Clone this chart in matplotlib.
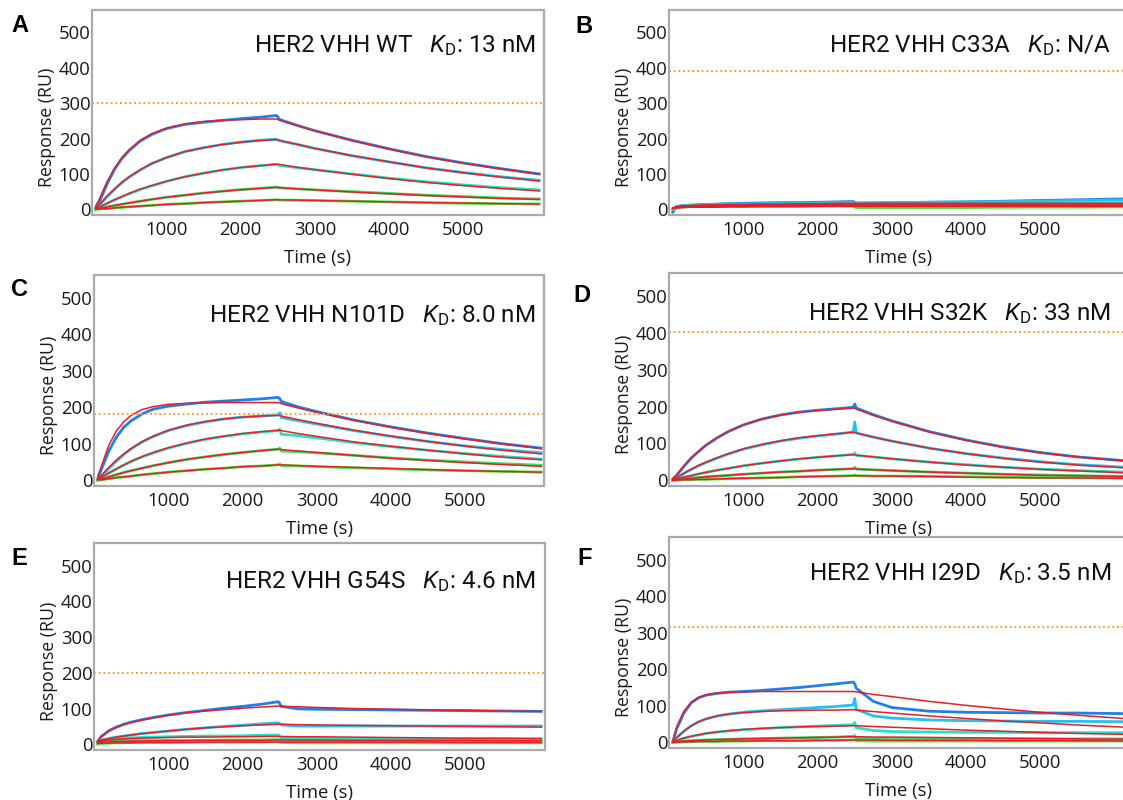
import matplotlib
matplotlib.use("Agg")
import matplotlib.pyplot as plt

# time grid (s) of the sampled points; right column panels run past the crop
T_LEFT  = [50, 100, 200, 300, 400, 500, 650, 800, 1000, 1250, 1500, 1750, 2000, 2250,
           2480, 2500, 2520, 2750, 3000, 3500, 4000, 4500, 5000, 5500, 6020]
T_RIGHT = [50, 100, 200, 300, 400, 500, 650, 800, 1000, 1250, 1500, 1750, 2000, 2250,
           2480, 2500, 2520, 2750, 3000, 3500, 4000, 4500, 5000, 5500, 6250]

LETTERS  = ["A", "B", "C", "D", "E", "F"]
VARIANTS = ["WT", "C33A", "N101D", "S32K", "G54S", "I29D"]
KD_TEXT  = ["13 nM", "N/A", "8.0 nM", "33 nM", "4.6 nM", "3.5 nM"]
RMAX     = [300, 390, 181, 402, 200, 315]

# observed responses (RU), highest to lowest concentration
A_OBS = [
    [3, 22, 70, 112, 143, 166, 193, 211, 228, 240, 246, 251, 256, 260, 265, 262, 254, 238, 222, 195, 171, 149, 131, 115, 100],
    [2, 12, 35, 56, 75, 91, 111, 129, 146, 163, 174, 183, 190, 195, 198, 196, 194, 184, 172, 151, 134, 117, 104, 92, 82],
    [1, 5, 16, 26, 35, 44, 56, 66, 79, 92, 102, 111, 118, 123, 127, 126, 124, 118, 112, 100, 88, 78, 69, 61, 55],
    [0, 2, 6, 10, 14, 18, 23, 28, 34, 40, 46, 51, 56, 59, 63, 62, 61, 58, 55, 50, 45, 40, 36, 32, 29],
    [0, 1, 2, 4, 5, 7, 9, 11, 14, 16, 19, 21, 23, 25, 27, 27, 26, 26, 25, 23, 21, 19, 17, 16, 15],
]
A_FIT = [
    [10, 29, 77, 115, 145, 168, 195, 213, 229, 241, 248, 252, 253, 255, 255, 254, 252, 237, 222, 194, 170, 148, 130, 114, 99],
    [4, 13, 37, 57, 76, 92, 112, 129, 146, 163, 174, 183, 189, 194, 197, 196, 195, 184, 172, 152, 134, 117, 103, 91, 80],
    [3, 6, 17, 27, 36, 45, 57, 67, 79, 92, 102, 111, 118, 123, 128, 127, 127, 119, 112, 99, 87, 76, 67, 59, 52],
    [2, 2, 7, 11, 15, 18, 23, 28, 34, 40, 46, 51, 55, 59, 62, 62, 61, 58, 55, 49, 44, 39, 35, 31, 28],
    [1, 1, 2, 4, 6, 7, 9, 11, 14, 16, 19, 21, 23, 25, 27, 27, 27, 26, 25, 23, 21, 19, 18, 16, 15],
]

B_OBS = [
    [-8, 8, 11, 12, 13, 14, 15, 16, 17, 18, 19, 19, 20, 21, 22, 20, 18, 18, 19, 20, 21, 23, 25, 27, 30],
    [0, 7, 10, 11, 12, 13, 14, 15, 15, 16, 17, 17, 18, 19, 19, 18, 17, 18, 19, 20, 21, 22, 23, 25, 27],
    [0, 6, 9, 10, 10, 11, 12, 12, 13, 13, 14, 14, 15, 15, 16, 14, 13, 14, 14, 15, 15, 16, 17, 18, 19],
    [0, 5, 8, 9, 9, 10, 10, 11, 11, 12, 12, 12, 13, 13, 13, 8, 6, 6, 6, 6, 7, 7, 8, 8, 9],
    [0, 4, 7, 8, 8, 8, 9, 9, 9, 10, 10, 10, 10, 11, 11, 6, 5, 5, 5, 5, 5, 6, 6, 6, 7],
]
B_FIT = [
    [4, 8, 10, 11, 12, 12, 13, 14, 14, 15, 15, 16, 16, 17, 17, 17, 17, 17, 17, 17, 17, 17, 17, 17, 17],
    [3, 7, 9, 10, 10, 11, 11, 12, 12, 13, 13, 14, 14, 14, 15, 15, 15, 15, 15, 15, 15, 15, 15, 15, 15],
    [3, 6, 8, 8, 9, 9, 10, 10, 10, 11, 11, 11, 12, 12, 12, 12, 12, 12, 12, 12, 12, 12, 12, 12, 12],
    [2, 5, 6, 7, 7, 7, 8, 8, 8, 9, 9, 9, 9, 10, 10, 10, 10, 10, 10, 10, 10, 10, 10, 10, 10],
    [2, 4, 5, 6, 6, 6, 6, 7, 7, 7, 7, 7, 8, 8, 8, 8, 8, 8, 8, 8, 8, 8, 8, 8, 8],
]

C_OBS = [
    [3, 30, 80, 118, 145, 163, 182, 195, 203, 209, 214, 217, 220, 223, 227, 224, 216, 201, 188, 165, 146, 129, 114, 100, 88],
    [2, 11, 32, 52, 70, 86, 105, 120, 136, 150, 160, 168, 173, 176, 179, 185, 172, 163, 154, 136, 120, 106, 94, 84, 75],
    [1, 6, 19, 30, 41, 51, 64, 75, 88, 101, 112, 120, 127, 132, 136, 140, 126, 122, 116, 103, 92, 82, 73, 65, 58],
    [0, 3, 9, 15, 21, 26, 33, 40, 48, 57, 64, 70, 76, 81, 85, 88, 80, 78, 75, 68, 61, 55, 50, 45, 41],
    [0, 1, 4, 7, 9, 11, 15, 18, 22, 26, 30, 33, 37, 39, 42, 44, 40, 39, 37, 34, 31, 28, 26, 24, 22],
]
C_FIT = [
    [10, 39, 96, 135, 160, 178, 194, 202, 208, 211, 212, 213, 213, 213, 213, 212, 210, 198, 186, 164, 145, 128, 113, 99, 87],
    [5, 13, 35, 55, 72, 87, 106, 121, 137, 151, 161, 168, 173, 176, 178, 177, 176, 166, 156, 137, 121, 106, 93, 82, 72],
    [3, 7, 20, 31, 42, 52, 65, 76, 89, 102, 113, 121, 128, 133, 137, 137, 136, 128, 120, 105, 93, 82, 72, 63, 56],
    [2, 3, 9, 15, 21, 26, 33, 40, 48, 57, 64, 71, 76, 81, 85, 85, 84, 80, 76, 68, 60, 54, 48, 43, 38],
    [1, 1, 4, 7, 9, 11, 15, 18, 22, 26, 30, 33, 37, 39, 42, 42, 42, 40, 38, 35, 32, 29, 26, 24, 22],
]

D_OBS = [
    [2, 12, 37, 60, 78, 95, 115, 132, 150, 166, 177, 185, 190, 194, 198, 207, 196, 178, 161, 132, 109, 90, 75, 63, 51],
    [1, 5, 18, 29, 39, 48, 60, 71, 84, 96, 106, 114, 120, 125, 131, 158, 128, 117, 106, 87, 72, 60, 50, 42, 34],
    [0, 3, 8, 12, 17, 21, 27, 32, 39, 46, 52, 57, 62, 66, 70, 74, 67, 63, 58, 49, 42, 35, 30, 26, 21],
    [0, 1, 3, 5, 7, 9, 11, 13, 16, 19, 22, 24, 27, 29, 31, 35, 30, 28, 26, 22, 19, 16, 14, 12, 10],
    [0, 0, 1, 1, 2, 2, 3, 4, 5, 6, 7, 9, 10, 11, 12, 14, 12, 11, 11, 10, 9, 8, 7, 6, 5],
]
D_FIT = [
    [5, 14, 39, 61, 79, 96, 116, 133, 150, 166, 177, 184, 189, 193, 196, 195, 193, 176, 160, 131, 108, 89, 74, 63, 50],
    [3, 6, 19, 30, 40, 49, 61, 72, 85, 97, 107, 115, 121, 126, 130, 129, 128, 117, 106, 87, 72, 59, 49, 41, 32],
    [1, 3, 8, 12, 17, 21, 27, 32, 39, 46, 52, 58, 62, 66, 69, 69, 68, 63, 58, 49, 41, 35, 29, 25, 19],
    [0, 1, 3, 5, 7, 9, 11, 13, 16, 19, 22, 24, 27, 29, 31, 31, 30, 28, 26, 22, 19, 16, 13, 12, 9],
    [0, 0, 1, 1, 2, 2, 3, 4, 5, 6, 7, 9, 10, 11, 12, 12, 12, 11, 11, 10, 8, 7, 6, 6, 5],
]

E_OBS = [
    [8, 22, 38, 48, 56, 62, 69, 75, 82, 89, 95, 101, 106, 112, 119, 114, 106, 99, 98, 97, 96, 95, 94, 93, 92],
    [5, 11, 16, 20, 23, 26, 30, 33, 37, 42, 46, 50, 53, 57, 60, 58, 54, 51, 51, 51, 51, 51, 51, 51, 51],
    [3, 10, 14, 16, 17, 18, 19, 20, 21, 22, 23, 23, 24, 25, 26, 22, 18, 16, 16, 16, 15, 15, 15, 15, 15],
    [2, 6, 8, 9, 9, 10, 10, 10, 11, 11, 11, 12, 12, 12, 13, 11, 10, 9, 9, 9, 9, 9, 9, 9, 9],
    [0, 2, 3, 4, 4, 5, 5, 5, 5, 6, 6, 6, 6, 6, 7, 6, 5, 4, 4, 4, 4, 4, 4, 4, 4],
]
E_FIT = [
    [10, 22, 37, 47, 55, 61, 68, 74, 81, 88, 93, 97, 101, 104, 107, 107, 106, 105, 103, 100, 98, 96, 95, 93, 92],
    [8, 12, 16, 20, 23, 26, 30, 33, 37, 42, 46, 49, 52, 54, 56, 56, 56, 55, 54, 53, 52, 51, 50, 49, 48],
    [5, 9, 12, 14, 15, 16, 17, 18, 19, 20, 20, 21, 21, 22, 22, 22, 22, 21, 21, 20, 19, 18, 17, 17, 16],
    [4, 6, 7, 8, 8, 9, 9, 10, 10, 10, 11, 11, 11, 11, 12, 12, 12, 12, 12, 11, 11, 11, 11, 10, 10],
    [2, 3, 3, 4, 4, 4, 5, 5, 5, 5, 6, 6, 6, 6, 6, 6, 6, 6, 6, 6, 6, 6, 5, 5, 5],
]

F_OBS = [
    [0, 35, 80, 108, 122, 129, 134, 137, 139, 142, 146, 150, 155, 160, 165, 160, 148, 112, 95, 85, 82, 81, 80, 80, 78],
    [0, 12, 30, 45, 56, 64, 72, 77, 82, 86, 89, 92, 95, 98, 102, 120, 90, 72, 66, 61, 59, 58, 57, 57, 56],
    [0, 4, 11, 16, 20, 24, 28, 31, 34, 37, 40, 42, 44, 46, 48, 54, 40, 32, 29, 28, 27, 27, 26, 26, 26],
    [0, 1, 3, 4, 5, 6, 7, 8, 9, 10, 11, 12, 13, 14, 16, 18, 12, 10, 10, 9, 9, 9, 9, 9, 9],
    [0, 0, 1, 1, 2, 2, 2, 3, 3, 4, 4, 4, 5, 5, 6, 7, 4, 3, 3, 3, 3, 3, 3, 3, 3],
]
F_FIT = [
    [0, 40, 85, 110, 123, 130, 135, 137, 138, 139, 139, 139, 139, 139, 139, 139, 138, 131, 125, 112, 101, 91, 82, 74, 63],
    [0, 12, 30, 45, 56, 64, 72, 77, 81, 84, 86, 87, 88, 88, 89, 89, 88, 84, 80, 72, 65, 58, 53, 47, 40],
    [0, 4, 11, 16, 20, 24, 28, 31, 35, 38, 40, 42, 43, 44, 45, 45, 45, 43, 41, 37, 33, 30, 27, 24, 21],
    [0, 1, 3, 4, 5, 6, 7, 8, 9, 10, 11, 12, 13, 14, 15, 15, 15, 14, 14, 13, 12, 11, 10, 9, 8],
    [0, 0, 1, 1, 2, 2, 2, 3, 3, 4, 4, 4, 5, 5, 6, 6, 6, 6, 5, 5, 5, 4, 4, 4, 3],
]

OBS = [A_OBS, B_OBS, C_OBS, D_OBS, E_OBS, F_OBS]
FIT = [A_FIT, B_FIT, C_FIT, D_FIT, E_FIT, F_FIT]

# ---------------------------------------------------------------------
# layout (pixels, top-left origin) and styling
# ---------------------------------------------------------------------
W, H = 1123, 800
BOXES = [(92, 10, 452, 205), (669, 10, 460, 205),
         (94, 275, 450, 211), (669, 273, 460, 213),
         (94, 543, 451, 207), (669, 537, 460, 211)]
TITLE_BASE = [52, 52, 322, 320, 588, 580]
LETTER_POS = [(11, 32), (575, 33), (11, 296), (573, 302), (11, 565), (577, 565)]
PX_PER_S = 74.3 / 1000

TRACE_COLORS = ["#1f80e8", "#22c2f0", "#22e4c4", "#3cdc66", "#48e848"]
FIT_COLOR = "#e61e28"
FRAME = "#ababab"
INK = "#1a1a1a"

plt.rcParams["font.family"] = ["Open Sans", "DejaVu Sans"]
plt.rcParams["mathtext.fontset"] = "custom"
plt.rcParams["mathtext.it"] = "Roboto:italic"
plt.rcParams["mathtext.rm"] = "Roboto"

fig = plt.figure(figsize=(W / 100, H / 100), dpi=100)

for i, (left, top, wd, ht) in enumerate(BOXES):
    ax = fig.add_axes([left / W, 1 - (top + ht) / H, wd / W, ht / H])
    t = T_LEFT if i % 2 == 0 else T_RIGHT

    for obs, col in zip(OBS[i], TRACE_COLORS):
        ax.plot(t, obs, color=col, lw=2.0, solid_joinstyle="round")
    for fit in FIT[i]:
        ax.plot(t, fit, color=FIT_COLOR, lw=1.1)
    ax.axhline(RMAX[i], color="#f5a33a", lw=1.4, ls=(0, (1, 1.4)))

    ax.set_xlim(0, wd / PX_PER_S)
    ax.set_ylim(-16, 563)
    ax.set_xticks([1000, 2000, 3000, 4000, 5000])
    ax.set_yticks([0, 100, 200, 300, 400, 500])
    ax.tick_params(length=0, labelsize=13.3, colors=INK)
    ax.tick_params(axis="y", pad=1.0)
    ax.tick_params(axis="x", pad=4.5)
    for sp in ax.spines.values():
        sp.set_color(FRAME)
        sp.set_linewidth(1.6)

    ax.set_ylabel("Response (RU)", fontsize=12.8, color=INK)
    ax.yaxis.set_label_coords(-36 / wd, 0.43)
    ax.set_xlabel("Time (s)", fontsize=13.3, color=INK)
    ax.xaxis.set_label_coords(0.5, -43 / ht)
    ax.xaxis.label.set_va("center")

    title = f"HER2 VHH {VARIANTS[i]}   $K_\\mathrm{{D}}$: {KD_TEXT[i]}"
    right = 536 if i % 2 == 0 else 1111
    fig.text(right / W, 1 - TITLE_BASE[i] / H, title, ha="right", va="baseline",
             fontsize=17.5, family="Roboto", color="#111111")

    lx, ly = LETTER_POS[i]
    fig.text(lx / W, 1 - ly / H, LETTERS[i], ha="left", va="baseline",
             fontsize=17, fontweight="bold", family="Liberation Sans")

fig.savefig("out.png", dpi=100)
